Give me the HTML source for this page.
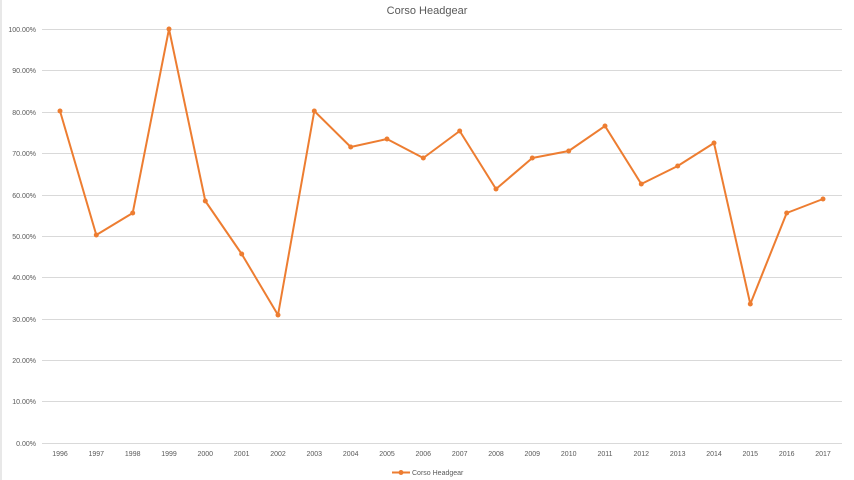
<!DOCTYPE html>
<html><head><meta charset="utf-8"><style>
html,body{margin:0;padding:0;background:#fff;}
svg{display:block;font-family:"Liberation Sans",sans-serif;}
</style></head><body>
<svg width="854" height="480" viewBox="0 0 854 480">
<rect x="0" y="0" width="854" height="480" fill="#fff"/>
<line x1="1" y1="0" x2="1" y2="480" stroke="#d0d0d0"/>
<text x="427" y="14" font-size="11" fill="#595959" text-anchor="middle">Corso Headgear</text>
<g stroke="#d9d9d9" stroke-width="1">
<line x1="42" x2="842" y1="29.5" y2="29.5"/>
<line x1="42" x2="842" y1="70.5" y2="70.5"/>
<line x1="42" x2="842" y1="112.5" y2="112.5"/>
<line x1="42" x2="842" y1="153.5" y2="153.5"/>
<line x1="42" x2="842" y1="195.5" y2="195.5"/>
<line x1="42" x2="842" y1="236.5" y2="236.5"/>
<line x1="42" x2="842" y1="277.5" y2="277.5"/>
<line x1="42" x2="842" y1="319.5" y2="319.5"/>
<line x1="42" x2="842" y1="360.5" y2="360.5"/>
<line x1="42" x2="842" y1="401.5" y2="401.5"/>
<line x1="42" x2="842" y1="443.5" y2="443.5"/>
</g>
<g font-size="7" fill="#595959" text-anchor="end">
<text x="36" y="32">100.00%</text>
<text x="36" y="73">90.00%</text>
<text x="36" y="115">80.00%</text>
<text x="36" y="156">70.00%</text>
<text x="36" y="198">60.00%</text>
<text x="36" y="239">50.00%</text>
<text x="36" y="280">40.00%</text>
<text x="36" y="322">30.00%</text>
<text x="36" y="363">20.00%</text>
<text x="36" y="404">10.00%</text>
<text x="36" y="446">0.00%</text>
</g>
<g font-size="7" fill="#595959" text-anchor="middle">
<text x="60" y="456">1996</text><text x="96.3" y="456">1997</text><text x="132.7" y="456">1998</text><text x="169" y="456">1999</text><text x="205.3" y="456">2000</text><text x="241.7" y="456">2001</text><text x="278" y="456">2002</text><text x="314.3" y="456">2003</text><text x="350.7" y="456">2004</text><text x="387" y="456">2005</text><text x="423.3" y="456">2006</text><text x="459.7" y="456">2007</text><text x="496" y="456">2008</text><text x="532.3" y="456">2009</text><text x="568.7" y="456">2010</text><text x="605" y="456">2011</text><text x="641.3" y="456">2012</text><text x="677.7" y="456">2013</text><text x="714" y="456">2014</text><text x="750.3" y="456">2015</text><text x="786.7" y="456">2016</text><text x="823" y="456">2017</text>
</g>
<polyline fill="none" stroke="#ed7d31" stroke-width="2" stroke-linejoin="round" points="60,111 96.3,235 132.7,213 169,29 205.3,201 241.7,254 278,315 314.3,111 350.7,147 387,139 423.3,158 459.7,131 496,189 532.3,158 568.7,151 605,126 641.3,184 677.7,166 714,143 750.3,304 786.7,213 823,199"/>
<g fill="#ed7d31">
<circle cx="60" cy="111" r="2.5"/><circle cx="96.3" cy="235" r="2.5"/><circle cx="132.7" cy="213" r="2.5"/><circle cx="169" cy="29" r="2.5"/><circle cx="205.3" cy="201" r="2.5"/><circle cx="241.7" cy="254" r="2.5"/><circle cx="278" cy="315" r="2.5"/><circle cx="314.3" cy="111" r="2.5"/><circle cx="350.7" cy="147" r="2.5"/><circle cx="387" cy="139" r="2.5"/><circle cx="423.3" cy="158" r="2.5"/><circle cx="459.7" cy="131" r="2.5"/><circle cx="496" cy="189" r="2.5"/><circle cx="532.3" cy="158" r="2.5"/><circle cx="568.7" cy="151" r="2.5"/><circle cx="605" cy="126" r="2.5"/><circle cx="641.3" cy="184" r="2.5"/><circle cx="677.7" cy="166" r="2.5"/><circle cx="714" cy="143" r="2.5"/><circle cx="750.3" cy="304" r="2.5"/><circle cx="786.7" cy="213" r="2.5"/><circle cx="823" cy="199" r="2.5"/>
</g>
<line x1="392" y1="472.5" x2="410" y2="472.5" stroke="#ed7d31" stroke-width="2"/>
<circle cx="401" cy="472.5" r="2.5" fill="#ed7d31"/>
<text x="412" y="475" font-size="7" fill="#595959">Corso Headgear</text>
</svg>
</body></html>
